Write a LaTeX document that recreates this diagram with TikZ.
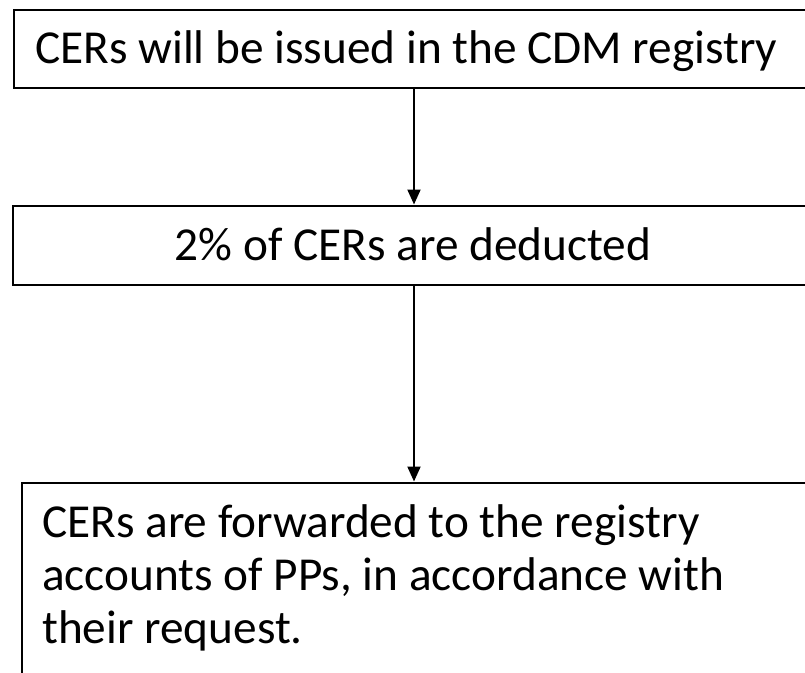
\documentclass[tikz,border=0pt]{standalone}
\usepackage{fontspec}
\setmainfont{Carlito}
\usetikzlibrary{arrows.meta}
\tikzset{
  box/.style={draw=black, line width=2pt, inner sep=0pt},
  lbl/.style={inner sep=0pt, font=\fontsize{47.3}{53}\selectfont},
  arr/.style={draw=black, line width=2pt, -{Triangle[width=13pt,length=15pt]}}
}
\begin{document}
\begin{tikzpicture}[x=1pt,y=-1pt]
\useasboundingbox (0,0) rectangle (805,672);
\clip (0,0) rectangle (805,672);
\node[box, minimum width=801pt, minimum height=78pt] (top) at (414.5,49) {};
\node[box, minimum width=802pt, minimum height=79.5pt] (mid) at (414,245.25) {};
\node[box, minimum width=793pt, minimum height=207.5pt] (bot) at (418.5,586.25) {};
\node[lbl, anchor=base west] (t1) at (35,63) {CERs will be issued in the CDM registry};
\node[lbl, anchor=base] (t2) at (413,260) {2\% of CERs are deducted};
\node[lbl, anchor=base west] (t3a) at (42,537) {CERs are forwarded to the registry};
\node[lbl, anchor=base west] (t3b) at (42,590) {accounts of PPs, in accordance with};
\node[lbl, anchor=base west] (t3c) at (42,643) {their request.};
\coordinate (ax) at (414,0);
\draw[arr] (top.south -| ax) -- (mid.north -| ax);
\draw[arr] (mid.south -| ax) -- (bot.north -| ax);
\end{tikzpicture}
\end{document}
